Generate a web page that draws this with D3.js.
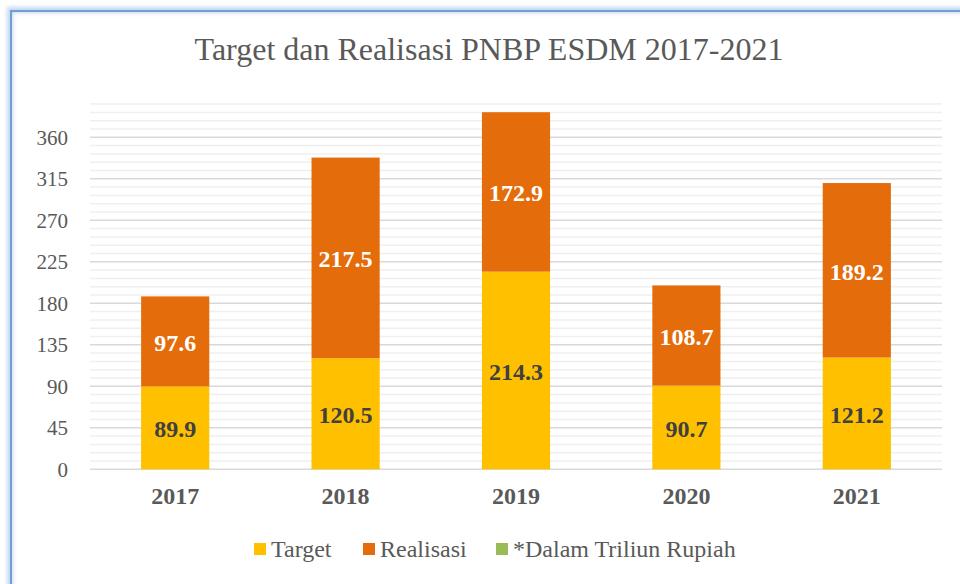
<!DOCTYPE html>
<html>
<head>
<meta charset="utf-8">
<script src="https://cdn.jsdelivr.net/npm/d3@7"></script>
<style>
  body { margin: 0; background: #fff; }
  svg { display: block; font-family: "Liberation Serif", "Times New Roman", serif; }
</style>
</head>
<body>
<div id="chart"></div>
<script>
/* data */
const years = ["2017", "2018", "2019", "2020", "2021"];
const target = [89.9, 120.5, 214.3, 90.7, 121.2];
const realisasi = [97.6, 217.5, 172.9, 108.7, 189.2];
const yTicks = [0, 45, 90, 135, 180, 225, 270, 315, 360];
const legendItems = ["Target", "Realisasi", "*Dalam Triliun Rupiah"];

const W = 960, H = 584;
const colors = ["#FFC000", "#E46C0A", "#9BBB59"];
const serif = "'Liberation Serif', 'Times New Roman', serif";

const svg = d3.select("#chart").append("svg")
    .attr("width", W)
    .attr("height", H);

// blurred frame
const defs = svg.append("defs");
defs.append("filter").attr("id", "glow")
    .append("feGaussianBlur").attr("stdDeviation", 2);

svg.append("rect")
    .attr("x", 10).attr("y", 10)
    .attr("width", W + 20).attr("height", H + 20)
    .attr("fill", "none")
    .attr("stroke", "#b9d0ec")
    .attr("stroke-width", 5)
    .attr("filter", "url(#glow)");
svg.append("rect")
    .attr("x", 11).attr("y", 11)
    .attr("width", W + 20).attr("height", H + 20)
    .attr("fill", "none")
    .attr("stroke", "#6f9fd6")
    .attr("stroke-width", 2);

// scales
const x = d3.scaleBand()
    .domain(years)
    .range([90, 942])
    .paddingInner(0.6)
    .paddingOuter(0.3);

const y = d3.scaleLinear()
    .domain([0, 396])
    .range([469.3, 104.1]);

// minor gridlines
const g = svg.append("g");
g.selectAll("line.minor")
    .data(d3.range(9, 397, 9).filter(v => v % 45 !== 0))
    .enter().append("line")
    .attr("x1", 90).attr("x2", 942)
    .attr("y1", d => y(d)).attr("y2", d => y(d))
    .attr("stroke", "#efefef")
    .attr("stroke-width", 1.5);

// major gridlines
g.selectAll("line.major")
    .data(yTicks)
    .enter().append("line")
    .attr("x1", 90).attr("x2", 942)
    .attr("y1", d => y(d)).attr("y2", d => y(d))
    .attr("stroke", "#d9d9d9")
    .attr("stroke-width", 1.5);

// y axis
const yAxis = svg.append("g")
    .attr("transform", "translate(68,0)")
    .call(d3.axisLeft(y).tickValues(yTicks).tickSize(0).tickPadding(0));
yAxis.attr("font-family", serif);
yAxis.select(".domain").remove();
yAxis.selectAll("text")
    .attr("font-size", 21)
    .attr("fill", "#595959");

// x axis
const xAxis = svg.append("g")
    .attr("transform", "translate(0,487)")
    .call(d3.axisBottom(x).tickSize(0).tickPadding(0));
xAxis.attr("font-family", serif);
xAxis.select(".domain").remove();
xAxis.selectAll("text")
    .attr("font-size", 24)
    .attr("font-weight", "bold")
    .attr("fill", "#595959");

// stacked data
const rows = years.map((yr, i) => ({ year: yr, target: target[i], realisasi: realisasi[i] }));
const series = d3.stack().keys(["target", "realisasi"])(rows);

const layer = svg.selectAll("g.layer")
    .data(series)
    .enter().append("g")
    .attr("fill", (d, i) => colors[i]);

layer.selectAll("rect")
    .data(d => d)
    .enter().append("rect")
    .attr("x", d => x(d.data.year))
    .attr("width", x.bandwidth())
    .attr("y", d => y(d[1]))
    .attr("height", d => y(d[0]) - y(d[1]));

// value labels
layer.each(function(s, si) {
    d3.select(this).selectAll("text")
        .data(s)
        .enter().append("text")
        .attr("x", d => x(d.data.year) + x.bandwidth() / 2)
        .attr("y", d => y((d[0] + d[1]) / 2) + 1)
        .attr("dy", "0.35em")
        .attr("text-anchor", "middle")
        .attr("font-size", 24)
        .attr("font-weight", "bold")
        .attr("fill", si === 0 ? "#404040" : "#ffffff")
        .text(d => d3.format(".1f")(d[1] - d[0]));
});

// title
svg.append("text")
    .attr("x", 489).attr("y", 60)
    .attr("text-anchor", "middle")
    .attr("font-size", 32)
    .attr("fill", "#595959")
    .text("Target dan Realisasi PNBP ESDM 2017-2021");

// legend
const legendX = [254, 363, 496];
const legend = svg.append("g");
legendItems.forEach((name, i) => {
    legend.append("rect")
        .attr("x", legendX[i]).attr("y", 543)
        .attr("width", 12).attr("height", 12)
        .attr("fill", colors[i]);
    legend.append("text")
        .attr("x", legendX[i] + 17).attr("y", 557)
        .attr("font-size", 24)
        .attr("fill", "#595959")
        .text(name);
});
</script>
</body>
</html>
